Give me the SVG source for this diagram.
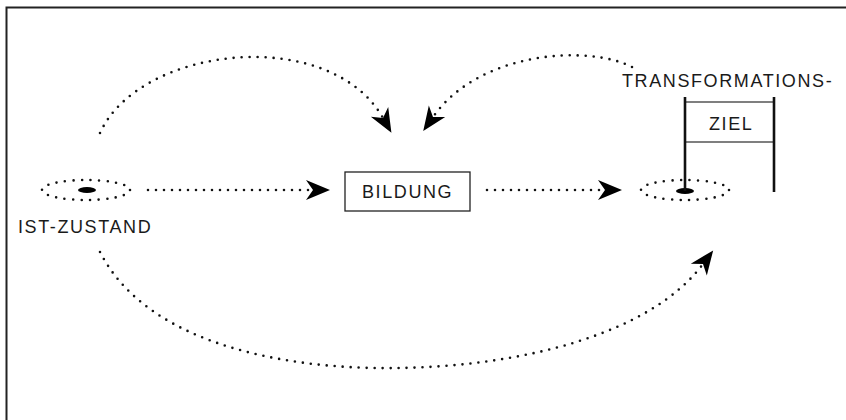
<svg xmlns="http://www.w3.org/2000/svg" width="846" height="420" viewBox="0 0 846 420">
  <style>
    .lbl { font-family: "Liberation Sans", Arial, sans-serif; font-size: 18px; letter-spacing: 1.6px; fill: #1a1a1a; }
    .dots { fill: none; stroke: #111; stroke-width: 2.6; stroke-linecap: round; stroke-dasharray: 0 8; }
    .ring { fill: none; stroke: #111; stroke-width: 2.6; stroke-linecap: round; stroke-dasharray: 0 8.5; }
    .pole { stroke: #111; stroke-width: 2.6; }
    .bar { stroke: #555; stroke-width: 1.6; }
  </style>
  <defs>
    <marker id="head" markerUnits="userSpaceOnUse" orient="auto" markerWidth="40" markerHeight="30" refX="0" refY="0" viewBox="-10 -12 40 24" overflow="visible">
      <path d="M0,0 L-7,-10 L17,0 L-7,10 Z" fill="#000"/>
    </marker>
  </defs>

  <rect width="846" height="420" fill="#fff"/>
  <!-- frame edges -->
  <path d="M6.5,420 V7.5 H846" fill="none" stroke="#222" stroke-width="2"/>

  <g id="ist-zustand">
    <ellipse class="ring" cx="86" cy="190" rx="44" ry="10"/>
    <ellipse cx="87" cy="190" rx="9" ry="3" fill="#000"/>
    <text class="lbl" x="18" y="233">IST-ZUSTAND</text>
  </g>

  <g id="bildung">
    <rect x="345" y="172" width="125" height="39" fill="#fff" stroke="#222" stroke-width="1.3"/>
    <text class="lbl" x="362" y="198">BILDUNG</text>
  </g>

  <g id="transformationsziel">
    <ellipse class="ring" cx="685" cy="190" rx="44" ry="10"/>
    <ellipse cx="685" cy="191" rx="9" ry="3" fill="#000"/>
    <line class="bar" x1="685" y1="102" x2="774" y2="102"/>
    <line class="bar" x1="685" y1="142" x2="774" y2="142"/>
    <line class="pole" x1="685" y1="97" x2="685" y2="191"/>
    <line class="pole" x1="774" y1="97" x2="774" y2="192"/>
    <text class="lbl" x="709" y="130">ZIEL</text>
    <text class="lbl" x="622" y="87">TRANSFORMATIONS-</text>
  </g>

  <g id="connectors">
    <path class="dots" d="M148,190 H313" marker-end="url(#head)"/>
    <path class="dots" d="M487,190 H605" marker-end="url(#head)"/>
    <path class="dots" d="M100,133 C140,45 330,25 383,118" marker-end="url(#head)"/>
    <path class="dots" d="M632,67 C590,45 480,50 433,117" marker-end="url(#head)"/>
    <path class="dots" d="M100,252 C150,350 300,370 400,368 C520,366 650,335 703,264" marker-end="url(#head)"/>
  </g>
</svg>
